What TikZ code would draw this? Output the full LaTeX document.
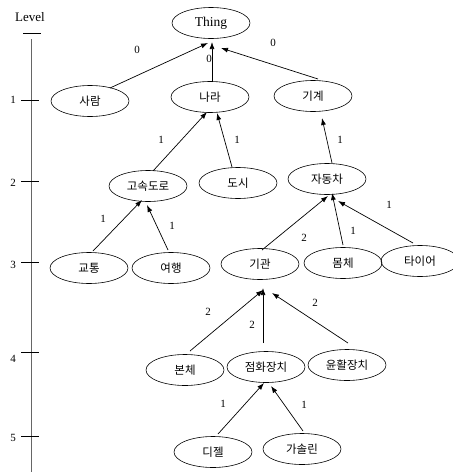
\documentclass[tikz,border=0pt]{standalone}
\usepackage{fontspec}
\setmainfont{Liberation Serif}
\newfontfamily\kor{Noto Sans CJK KR}
\usepackage{tikz}
\usetikzlibrary{arrows.meta}
\usetikzlibrary{shapes.geometric}

\begin{document}
\begin{tikzpicture}[>={Latex[length=7pt,width=5pt]},x=1pt,y=-1pt,
	concept/.style={ellipse,draw,line width=0.6pt,minimum width=78pt,minimum height=31pt,inner sep=0pt,font={\kor\fontsize{11.5}{13}\selectfont}},
	weight/.style={font={\fontsize{11}{13}\selectfont}}]
	\clip (0,0) rectangle (453,472);
	
	% level ruler
	\node[font={\fontsize{13}{15}\selectfont}] (lvtitle) at (30,17) {Level};
	\draw[line width=0.6pt] (23,33) -- (41,33);
	\draw[black!60,line width=0.8pt] (31,39) -- (31,472);
	\foreach \i/\y/\ty in {1/100/100,2/181/183,3/262/265,4/352/359,5/436/438}{
		\draw[line width=0.6pt] (21,\y) -- (39,\y);
		\node[weight] (lv\i) at (13,\ty) {\i};
	}
	
	% concepts
	\node[concept,font={\fontsize{13.5}{15}\selectfont}] (thing) at (211,23) {Thing};
	\foreach \n/\x/\y/\t in {saram/90/101/사람, nara/210/97/나라, gigye/313/96/기계,
		gosok/148/186/고속도로, dosi/238/183/도시, jadong/327/179/자동차,
		gyotong/89/268/교통, yeohaeng/171/268/여행, gigwan/260/264/기관,
		momche/343/263/몸체, taieo/420/261/타이어,
		bonche/185/370/본체, jeomhwa/266/367/점화장치, yunhwal/347/365/윤활장치,
		dijel/213/452/디젤, gasollin/302/449/가솔린}{
		\node[concept] (\n) at (\x,\y) {\t};
	}
	
	% is-a links
	\foreach \a/\b/\sx/\sy/\ex/\ey in {saram/thing/20/-13/-3/20, nara/thing/2/-15/1/19, gigye/thing/5/-17/10/25,
		gosok/nara/5/-15/-3/15, dosi/nara/-6/-16/7/16, jadong/gigye/5/-16/9/22,
		gyotong/gosok/4/-17/-6/14, yeohaeng/gosok/-3/-18/-1/19,
		gigwan/jadong/2/-14/1/17, momche/jadong/0/-18/5/14, taieo/jadong/-7/-18/11/22,
		bonche/gigwan/5/-19/3/26, jeomhwa/gigwan/-3/-24/3/24, yunhwal/gigwan/1/-22/12/29,
		dijel/jeomhwa/5/-18/-2/16, gasollin/jeomhwa/1/-18/5/19}{
		\draw[->,line width=0.7pt] ([shift={(\sx,\sy)}]\a.center) -- ([shift={(\ex,\ey)}]\b.center);
	}
	
	% weights
	\foreach \i/\x/\y/\w in {1/137/50/0, 2/209/59/0, 3/273/43/0,
		4/161/140/1, 5/237/140/1, 6/340/140/1,
		7/103/219/1, 8/172/226/1, 9/304/238/2, 10/353/231/1, 11/389/205/1,
		12/208/312/2, 13/252/325/2, 14/315/303/2, 15/223/404/1, 16/304/405/1}{
		\node[weight] (w\i) at (\x,\y) {\w};
	}
\end{tikzpicture}
\end{document}
